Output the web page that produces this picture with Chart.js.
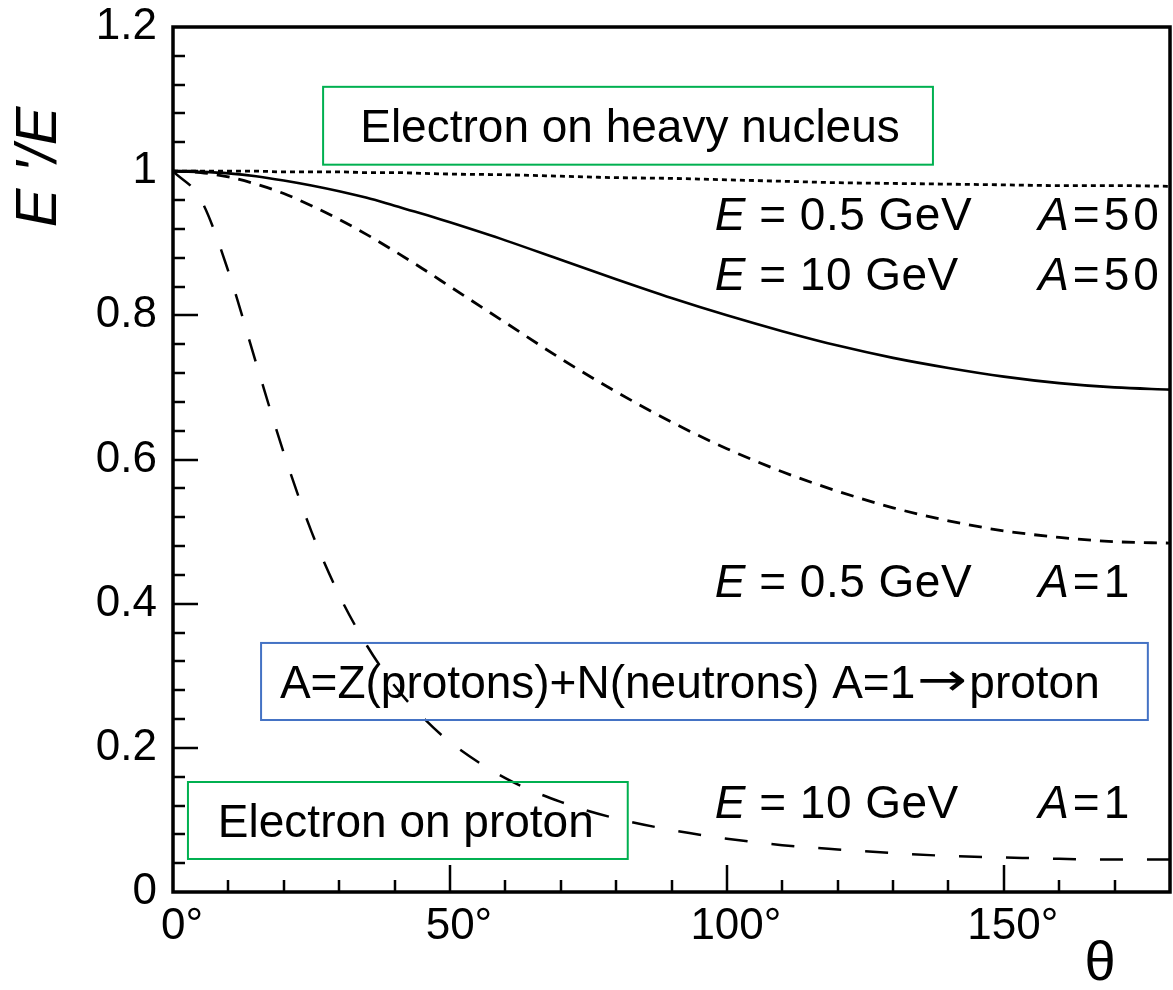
<!DOCTYPE html>
<html>
<head>
<meta charset="utf-8">
<title>E'/E vs theta</title>
<script src="https://cdn.jsdelivr.net/npm/chart.js@4/dist/chart.umd.min.js"></script>
<style>
  html, body { margin: 0; padding: 0; background: #fff; }
  #wrap { width: 1173px; height: 990px; position: relative; }
</style>
</head>
<body>
<div id="wrap"><canvas id="kinChart"></canvas></div>
<script>
// scattering angle (degrees) and E'/E
const thetaDeg = [0, 5, 10, 15, 20, 25, 30, 35, 40, 45, 50, 60, 70, 80, 90, 100, 110, 120, 130, 140, 150, 160, 170, 180];
const ratioE05A50 = [1.000, 1.000, 1.000, 1.000, 0.999, 0.999, 0.999, 0.998, 0.998, 0.997, 0.996, 0.995, 0.993, 0.991, 0.990, 0.988, 0.986, 0.984, 0.983, 0.982, 0.981, 0.980, 0.980, 0.979];
const ratioE10A50 = [1.000, 0.999, 0.997, 0.993, 0.987, 0.980, 0.972, 0.963, 0.952, 0.941, 0.929, 0.904, 0.877, 0.850, 0.824, 0.800, 0.778, 0.758, 0.741, 0.727, 0.715, 0.706, 0.700, 0.697];
const ratioE05A1 = [1.000, 0.998, 0.992, 0.982, 0.969, 0.952, 0.933, 0.912, 0.889, 0.865, 0.840, 0.790, 0.740, 0.694, 0.652, 0.615, 0.583, 0.556, 0.533, 0.515, 0.501, 0.492, 0.486, 0.484];
const ratioE10A1 = [1.000, 0.961, 0.861, 0.734, 0.609, 0.500, 0.412, 0.342, 0.286, 0.243, 0.208, 0.158, 0.125, 0.102, 0.086, 0.074, 0.065, 0.059, 0.054, 0.050, 0.048, 0.046, 0.045, 0.045];

const xTickLabels = ['0°', '50°', '100°', '150°'];
const yTickLabels = ['0', '0.2', '0.4', '0.6', '0.8', '1', '1.2'];

const energyLabels = ['= 0.5 GeV', '= 10 GeV', '= 0.5 GeV', '= 10 GeV'];
const massLabels = ['=50', '=50', '=1', '=1'];
const boxTexts = ['Electron on heavy nucleus', 'Electron on proton', 'A=Z(protons)+N(neutrons) '];
const boxTextTail = ['A=1', '→', 'proton'];

const FONT = '"Liberation Sans", Arial, Helvetica, sans-serif';

// where the curve labels sit (data coords: x in degrees, y = baseline)
const labelRows = [
  { x: 97.8, ax: 156.2, y: 0.918 },
  { x: 97.8, ax: 156.2, y: 0.835 },
  { x: 97.8, ax: 156.2, y: 0.409 },
  { x: 97.8, ax: 156.2, y: 0.103 }
];
// boxes (data coords) and their border colours
const boxes = [
  { x0: 27.1, x1: 137.2, y0: 1.117, y1: 1.009, tx: 33.8, color: '#00b050' },
  { x0: 2.7, x1: 82.1, y0: 0.1526, y1: 0.0458, tx: 8.1, color: '#00b050' },
  { x0: 15.9, x1: 176.0, y0: 0.3455, y1: 0.2386, tx: 19.3, color: '#4472c4' }
];

const figureDecor = {
  id: 'figureDecor',
  afterDatasetsDraw(chart) {
    const { ctx, chartArea: a, scales: { x, y } } = chart;
    ctx.save();

    // inward ticks
    ctx.strokeStyle = '#000';
    ctx.lineWidth = 2.5;
    ctx.beginPath();
    for (let i = 1; i < 30; i++) {
      const py = Math.round(y.getPixelForValue(i * 0.04));
      const len = i % 5 === 0 ? 25 : 12;
      ctx.moveTo(a.left, py);
      ctx.lineTo(a.left + len, py);
    }
    for (let d = 10; d < 180; d += 10) {
      const px = Math.round(x.getPixelForValue(d));
      const len = d % 50 === 0 ? 27 : 12;
      ctx.moveTo(px, a.bottom);
      ctx.lineTo(px, a.bottom - len);
    }
    ctx.stroke();

    // frame
    ctx.lineWidth = 3.5;
    ctx.strokeRect(a.left, a.top, a.right - a.left, a.bottom - a.top);

    // curve labels
    ctx.fillStyle = '#000';
    ctx.textBaseline = 'alphabetic';
    ctx.textAlign = 'left';
    labelRows.forEach((r, i) => {
      const px = x.getPixelForValue(r.x);
      const py = y.getPixelForValue(r.y);
      ctx.letterSpacing = '0.5px';
      ctx.font = 'italic 46px ' + FONT;
      ctx.fillText('E', px, py);
      const w = ctx.measureText('E ').width;
      ctx.font = '46px ' + FONT;
      ctx.fillText(energyLabels[i], px + w, py);
      const ax = x.getPixelForValue(r.ax);
      ctx.letterSpacing = '4px';
      ctx.font = 'italic 46px ' + FONT;
      ctx.fillText('A', ax, py);
      const wa = ctx.measureText('A').width;
      ctx.font = '46px ' + FONT;
      ctx.fillText(massLabels[i], ax + wa, py);
    });
    ctx.letterSpacing = '0px';

    // annotation boxes
    boxes.forEach((b, i) => {
      const x0 = x.getPixelForValue(b.x0), x1 = x.getPixelForValue(b.x1);
      const y0 = y.getPixelForValue(b.y0), y1 = y.getPixelForValue(b.y1);
      ctx.strokeStyle = b.color;
      ctx.lineWidth = 2;
      ctx.strokeRect(x0, y0, x1 - x0, y1 - y0);
      const base = (y0 + y1) / 2 + 0.36 * 46;
      let tx = x.getPixelForValue(b.tx);
      ctx.font = '46px ' + FONT;
      ctx.fillStyle = '#000';
      ctx.fillText(boxTexts[i], tx, base);
      if (i === 2) {
        tx += ctx.measureText(boxTexts[i]).width;
        ctx.fillText(boxTextTail[0], tx, base);
        tx += ctx.measureText(boxTextTail[0]).width + 2;
        // stretched arrow glyph
        ctx.save();
        ctx.font = '46px "DejaVu Sans", sans-serif';
        const aw = ctx.measureText(boxTextTail[1]).width;
        ctx.translate(tx, base - 3);
        ctx.scale(1.3, 1);
        ctx.fillText(boxTextTail[1], 0, 0);
        ctx.restore();
        tx += aw * 1.3 + 2;
        ctx.font = '46px ' + FONT;
        ctx.fillText(boxTextTail[2], tx, base);
      }
    });

    // axis titles
    ctx.fillStyle = '#000';
    ctx.save();
    ctx.translate(40, 167);
    ctx.rotate(-Math.PI / 2);
    ctx.font = 'italic 58px ' + FONT;
    ctx.textAlign = 'center';
    ctx.textBaseline = 'middle';
    ctx.fillText("E '/E", 0, 0);
    ctx.restore();

    ctx.font = '56px ' + FONT;
    ctx.textAlign = 'center';
    ctx.textBaseline = 'middle';
    ctx.fillText('θ', 1100, 965);

    ctx.restore();
  }
};

const lineStyle = (data, dash, width) => ({
  data: thetaDeg.map((t, i) => ({ x: t, y: data[i] })),
  borderColor: '#000',
  borderWidth: width,
  borderDash: dash,
  pointRadius: 0,
  fill: false,
  cubicInterpolationMode: 'monotone'
});

new Chart(document.getElementById('kinChart').getContext('2d'), {
  type: 'line',
  data: {
    datasets: [
      { label: 'E = 0.5 GeV, A = 50', ...lineStyle(ratioE05A50, [5, 4], 2.8) },
      { label: 'E = 10 GeV, A = 50', ...lineStyle(ratioE10A50, [], 2.6) },
      { label: 'E = 0.5 GeV, A = 1', ...lineStyle(ratioE05A1, [13, 9], 2.8) },
      { label: 'E = 10 GeV, A = 1', ...lineStyle(ratioE10A1, [23, 24], 2.5) }
    ]
  },
  options: {
    responsive: true,
    maintainAspectRatio: false,
    animation: false,
    layout: { padding: { top: 27, right: 3, left: 0, bottom: 0 } },
    scales: {
      x: {
        type: 'linear',
        min: 0,
        max: 180,
        afterFit(s) { s.height = 98; s.paddingLeft = 0; s.paddingRight = 0; },
        grid: { display: false, drawTicks: false },
        border: { display: false },
        ticks: {
          stepSize: 50,
          includeBounds: false,
          autoSkip: false,
          maxRotation: 0,
          padding: 8,
          labelOffset: 9,
          color: '#000',
          font: { family: FONT, size: 44 },
          callback: (v, i) => xTickLabels[i]
        }
      },
      y: {
        type: 'linear',
        min: 0,
        max: 1.2,
        afterFit(s) { s.width = 173; s.paddingTop = 0; s.paddingBottom = 0; },
        grid: { display: false, drawTicks: false },
        border: { display: false },
        ticks: {
          stepSize: 0.2,
          padding: 16,
          color: '#000',
          font: { family: FONT, size: 44 },
          callback: (v, i) => yTickLabels[i]
        }
      }
    },
    plugins: {
      legend: { display: false },
      tooltip: { enabled: false }
    }
  },
  plugins: [figureDecor]
});
</script>
</body>
</html>
